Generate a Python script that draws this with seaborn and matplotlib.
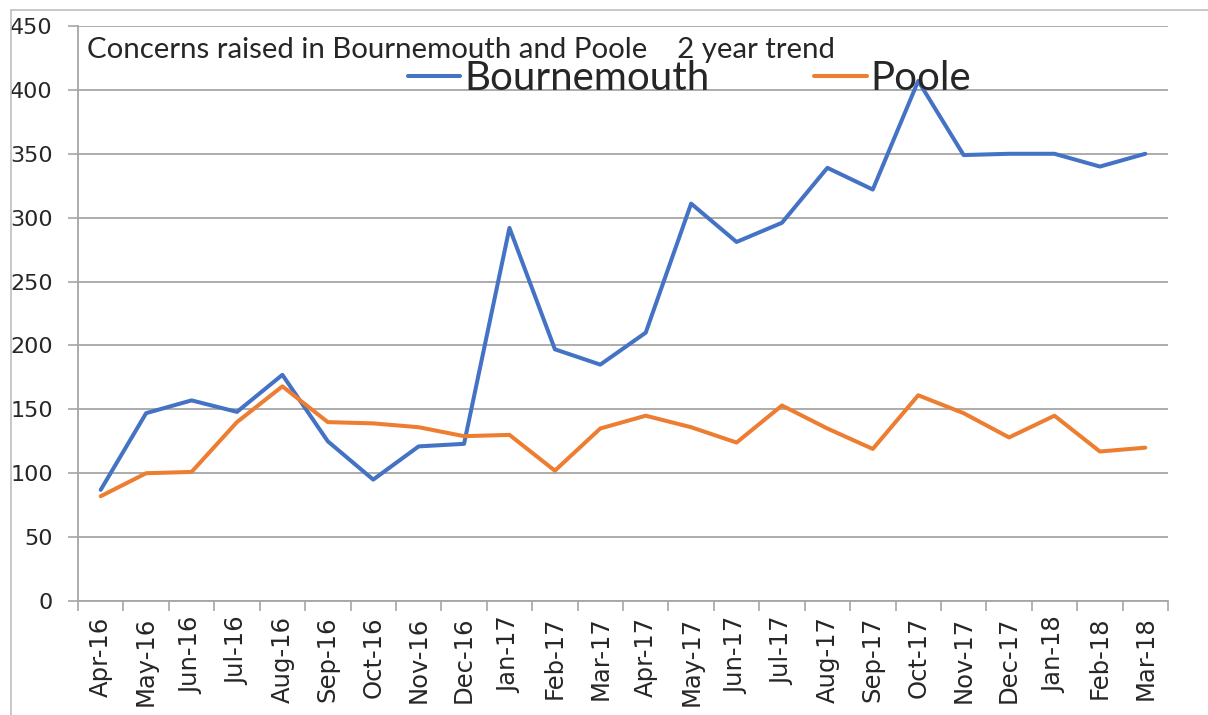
import numpy as np
import pandas as pd
import matplotlib
matplotlib.use("Agg")
import matplotlib.pyplot as plt
from matplotlib.patches import Rectangle
import seaborn as sns

# -----------------------------
# Data
# -----------------------------
months = [
    "Apr-16", "May-16", "Jun-16", "Jul-16", "Aug-16", "Sep-16",
    "Oct-16", "Nov-16", "Dec-16", "Jan-17", "Feb-17", "Mar-17",
    "Apr-17", "May-17", "Jun-17", "Jul-17", "Aug-17", "Sep-17",
    "Oct-17", "Nov-17", "Dec-17", "Jan-18", "Feb-18", "Mar-18",
]

bournemouth = [
    87, 147, 157, 148, 177, 125, 95, 121, 123, 292, 197, 185,
    210, 311, 281, 296, 339, 322, 407, 349, 350, 350, 340, 350,
]

poole = [
    82, 100, 101, 140, 168, 140, 139, 136, 129, 130, 102, 135,
    145, 136, 124, 153, 135, 119, 161, 147, 128, 145, 117, 120,
]

areas = ["Bournemouth", "Poole"]
colors = ["#4472C4", "#ED7D31"]
y_ticks = list(range(0, 451, 50))
title_text = "Concerns raised in Bournemouth and Poole    2 year trend"

df = pd.DataFrame({
    "month": months * 2,
    "pos": list(range(len(months))) * 2,
    "area": [areas[0]] * len(months) + [areas[1]] * len(months),
    "concerns": bournemouth + poole,
})

# -----------------------------
# Plot
# -----------------------------
sns.set_theme(style="white")
grid_col = "#a6a6a6"

fig = plt.figure(figsize=(12.08, 7.15), dpi=100)
ax = fig.add_axes([78 / 1208, 1 - 601 / 715, (1168 - 78) / 1208, (601 - 26) / 715])

sns.lineplot(
    data=df, x="pos", y="concerns", hue="area",
    palette=dict(zip(areas, colors)), sort=False,
    linewidth=2.9, ax=ax, legend=True,
)

ax.set_xlim(-0.5, len(months) - 0.5)
ax.set_ylim(0, 450)
ax.set_xlabel("")
ax.set_ylabel("")

# category labels at centres, tick marks at boundaries
ax.set_xticks(range(len(months)))
ax.set_xticklabels(months, rotation=90, fontsize=17.5, family="DejaVu Sans")
ax.set_xticks(np.arange(-0.5, len(months), 1.0), minor=True)
ax.tick_params(axis="x", which="major", length=0, pad=11)
ax.tick_params(axis="x", which="minor", length=7, width=1.2, color=grid_col, bottom=True)

ax.set_yticks(y_ticks)
ax.set_yticklabels([str(v) for v in y_ticks], fontsize=16, family="DejaVu Sans")
ax.tick_params(axis="y", which="major", length=7, width=1.2, color=grid_col, left=True, pad=11)

ax.yaxis.grid(True, color=grid_col, linewidth=1.3)
ax.xaxis.grid(False)
for side in ["top", "right"]:
    ax.spines[side].set_visible(False)
for side in ["left", "bottom"]:
    ax.spines[side].set_color(grid_col)
    ax.spines[side].set_linewidth(1.3)

# legend across the top of the plot
handles, labels = ax.get_legend_handles_labels()
ax.legend(
    handles, labels, ncol=2, frameon=False,
    loc="center left", bbox_to_anchor=(408 / 1208, 1 - 79 / 715),
    bbox_transform=fig.transFigure, borderaxespad=0, borderpad=0,
    handlelength=1.3, handletextpad=0.1, columnspacing=2.6,
    prop={"family": "Lato", "size": 29},
)

fig.text(87 / 1208, 1 - 50 / 715, title_text, fontsize=21.2,
         family="Lato", va="center", ha="left")

# outer chart border
fig.patches.append(Rectangle(
    (11 / 1208, -0.2), 1.2, 1.2 - 10 / 715,
    transform=fig.transFigure, fill=False, edgecolor="#bfbfbf", linewidth=1.2,
))

fig.savefig("out.png", dpi=100, facecolor="white")
